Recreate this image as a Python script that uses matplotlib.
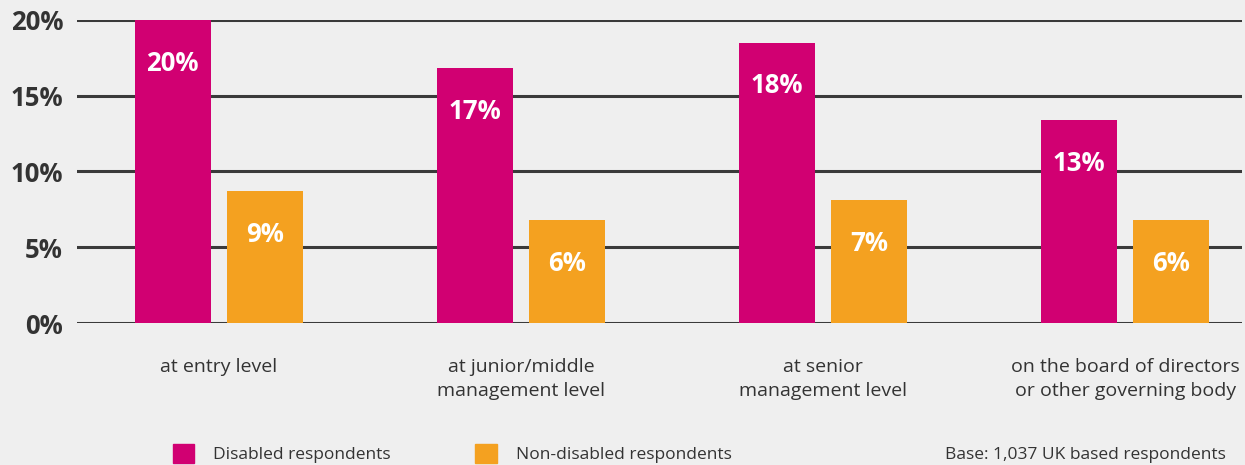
import numpy as np
import matplotlib
matplotlib.use("Agg")
import matplotlib.pyplot as plt
from matplotlib.patches import Patch

plt.rcParams['font.family'] = ['Open Sans', 'DejaVu Sans']

categories = ['at entry level', 'at junior/middle\nmanagement level',
              'at senior\nmanagement level',
              'on the board of directors\nor other governing body']
disabled = [20.0, 16.8, 18.5, 13.4]
non_disabled = [8.7, 6.8, 8.1, 6.8]
disabled_labels = ['20%', '17%', '18%', '13%']
non_disabled_labels = ['9%', '6%', '7%', '6%']
yticks = [0, 5, 10, 15, 20]

bg = '#efefef'
magenta = '#d10072'
orange = '#f4a120'
text_col = '#333333'

fig = plt.figure(figsize=(12.45, 4.65), dpi=100, facecolor=bg)
ax = fig.add_axes([77 / 1245, 142 / 465, 1165 / 1245, 303 / 465], facecolor=bg)

x = np.arange(len(categories))
w = 0.252
off = 0.153
b1 = ax.bar(x - off, disabled, w, color=magenta, zorder=3)
b2 = ax.bar(x + off, non_disabled, w, color=orange, zorder=3)

for bars, labs in ((b1, disabled_labels), (b2, non_disabled_labels)):
    for bar, lab in zip(bars, labs):
        ax.annotate(lab, (bar.get_x() + bar.get_width() / 2, bar.get_height()),
                    xytext=(0, -31), textcoords='offset points',
                    ha='center', va='center', color='white',
                    fontsize=18.5, fontweight='bold', zorder=4)

ax.set_xlim(-0.47, 3.387)
ax.set_ylim(0, 20)
ax.set_yticks(yticks)
ax.set_yticklabels([f'{t}%' for t in yticks], fontsize=18.5, fontweight='bold',
                   color=text_col)
ax.yaxis.grid(True, color='#3a3a3a', linewidth=2.2, zorder=1)
ax.tick_params(axis='y', length=0, pad=10)
ax.set_xticks(x)
ax.set_xticklabels(categories, fontsize=14, color=text_col, linespacing=1.45)
ax.tick_params(axis='x', length=0, pad=25)
for s in ax.spines.values():
    s.set_visible(False)

handles = [Patch(color=magenta, label='Disabled respondents'),
           Patch(color=orange, label='Non-disabled respondents')]
leg = fig.legend(handles=handles, ncol=2, loc='lower left',
                 bbox_to_anchor=(157 / 1245, -0.03), frameon=False,
                 fontsize=12.5, handlelength=1.25, handleheight=1.35,
                 handletextpad=1.1, columnspacing=4.85)
for t in leg.get_texts():
    t.set_color(text_col)

fig.text(1226 / 1245, 10 / 465, 'Base: 1,037 UK based respondents',
         ha='right', va='center', fontsize=12.5, color=text_col)

fig.savefig('out.png', dpi=100, facecolor=bg)
